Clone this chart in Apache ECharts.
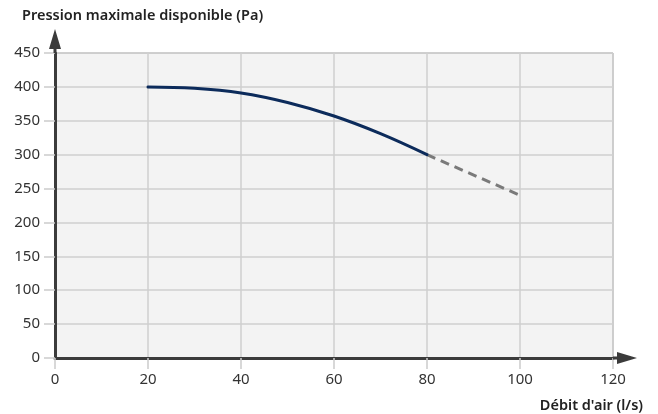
<!DOCTYPE html>
<html>
<head>
<meta charset="utf-8">
<script src="https://cdn.jsdelivr.net/npm/echarts@6/dist/echarts.min.js"></script>
<style>
  html, body { margin: 0; padding: 0; background: #ffffff; }
  #chart { width: 658px; height: 414px; }
</style>
</head>
<body>
<div id="chart"></div>
<script>
// Available pressure vs air flow
const flowMeasured = [20, 30, 40, 50, 60, 70, 80];
const pressureMeasured = [400, 398, 391, 377, 357, 331, 300];
const flowExtrapolated = [80, 100];
const pressureExtrapolated = [300, 240];

const xTicks = { min: 0, max: 120, step: 20 };
const yTicks = { min: 0, max: 450, step: 50 };

const yTitle = 'Pression maximale disponible (Pa)';
const xTitle = "Débit d'air (l/s)";

const FONT = '"Noto Sans", sans-serif';
const AXIS_DARK = '#3b3b3b';
// arrow head with a short shaft, pointing up; rotated by ECharts onto each axis
const ARROW = 'path://M6,0 L12,20 L7.5,20 L7.5,24 L4.5,24 L4.5,20 L0,20 Z';

const pairs = (xs, ys) => xs.map((x, i) => [x, ys[i]]);

const chart = echarts.init(document.getElementById('chart'), null, { renderer: 'canvas' });

const axisLine = {
  show: true,
  lineStyle: { color: AXIS_DARK, width: 3 },
  symbol: ['none', ARROW],
  symbolSize: [12, 24],
  symbolOffset: [0, 12]
};

const titleStyle = { fontFamily: FONT, fontSize: 14.5, fontWeight: 600, color: '#222' };

chart.setOption({
  animation: false,
  backgroundColor: '#ffffff',
  title: [
    { text: yTitle, left: 22, top: 8, padding: 0, textStyle: titleStyle },
    { text: xTitle, right: 15, top: 398, padding: 0, textStyle: titleStyle }
  ],
  grid: {
    left: 55, right: 45, top: 53, bottom: 56,
    show: true, backgroundColor: '#f3f3f3', borderColor: '#9a9a9a', borderWidth: 1
  },
  xAxis: {
    type: 'value',
    min: xTicks.min, max: xTicks.max, interval: xTicks.step,
    axisLine: axisLine,
    axisTick: { show: true, length: 11, lineStyle: { color: '#cccccc', width: 1.5 } },
    axisLabel: { fontFamily: FONT, fontSize: 15, color: '#333', margin: 14 },
    splitLine: { show: true, lineStyle: { color: '#cfcfcf', width: 1.5 } }
  },
  yAxis: {
    type: 'value',
    min: yTicks.min, max: yTicks.max, interval: yTicks.step,
    axisLine: axisLine,
    axisTick: { show: true, length: 11, lineStyle: { color: '#cccccc', width: 1.5 } },
    axisLabel: { fontFamily: FONT, fontSize: 15, color: '#333', margin: 15 },
    splitLine: { show: true, lineStyle: { color: '#cfcfcf', width: 1.5 } }
  },
  series: [
    {
      name: 'mesuré',
      type: 'line',
      data: pairs(flowMeasured, pressureMeasured),
      smooth: 0.4,
      showSymbol: false,
      lineStyle: { color: '#0c2b5b', width: 3, cap: 'round' },
      z: 3
    },
    {
      name: 'extrapolé',
      type: 'line',
      data: pairs(flowExtrapolated, pressureExtrapolated),
      showSymbol: false,
      lineStyle: { color: '#7a7a7a', width: 3, type: [9, 6] },
      z: 2
    }
  ]
});
</script>
</body>
</html>
